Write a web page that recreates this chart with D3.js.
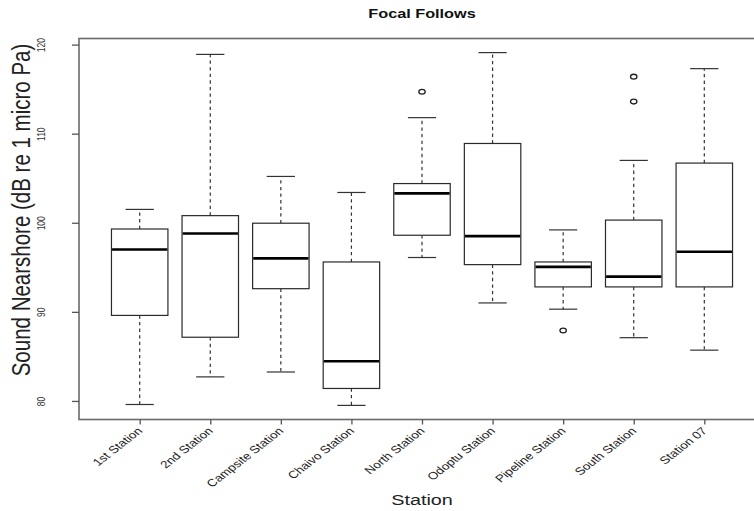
<!DOCTYPE html>
<html>
<head>
<meta charset="utf-8">
<script src="https://cdn.jsdelivr.net/npm/d3@7"></script>
<style>
  html, body { margin: 0; padding: 0; background: #fff; }
  svg { display: block; }
  text { font-family: "Liberation Sans", Arial, Helvetica, sans-serif; }
</style>
</head>
<body>
<svg id="chart" width="754" height="511"></svg>
<script>
// Box-plot summaries per station (dB re 1 micro Pa)
const stations = ["1st Station", "2nd Station", "Campsite Station", "Chaivo Station",
  "North Station", "Odoptu Station", "Pipeline Station", "South Station", "Station 07"];
const lowerWhisker = [79.6, 82.7, 83.25, 79.5, 96.1, 91.0, 90.3, 87.1, 85.7];
const q1           = [89.6, 87.15, 92.6, 81.4, 98.6, 95.3, 92.8, 92.8, 92.8];
const medians      = [97.0, 98.8, 96.0, 84.45, 103.3, 98.5, 95.05, 93.95, 96.75];
const q3           = [99.3, 100.8, 99.95, 95.6, 104.4, 108.9, 95.6, 100.3, 106.7];
const upperWhisker = [101.5, 118.9, 105.2, 103.4, 111.8, 119.1, 99.2, 107.0, 117.3];
const outlierStations = ["North Station", "Pipeline Station", "South Station", "South Station"];
const outlierValues   = [114.7, 87.9, 113.6, 116.4];
const yTicks = [80, 90, 100, 110, 120];

const title = "Focal Follows";
const xTitle = "Station";
const yTitle = "Sound Nearshore (dB re 1 micro Pa)";

// Text is drawn slightly wider than tall, as on the original graphics device
const SX = 1.28;

const svg = d3.select("#chart");
const plot = { left: 79, right: 765, top: 38.5, bottom: 419.5 };

// Stations sit at 1..n; the range 0.5..n+0.5 is padded by 4% on each side
const n = stations.length;
const xSpan = n;
const x = d3.scaleLinear()
  .domain([0.5 - xSpan * 0.04, n + 0.5 + xSpan * 0.04])
  .range([plot.left, plot.right]);

const allVals = lowerWhisker.concat(upperWhisker, outlierValues);
const yMin = d3.min(allVals), yMax = d3.max(allVals);
const yPad = (yMax - yMin) * 0.04;
const y = d3.scaleLinear()
  .domain([yMin - yPad, yMax + yPad])
  .range([plot.bottom, plot.top]);

const boxW = 0.8;
const data = stations.map((s, i) => ({
  name: s, pos: i + 1,
  lo: lowerWhisker[i], q1: q1[i], med: medians[i], q3: q3[i], hi: upperWhisker[i]
}));

const g = svg.append("g");

// whiskers (dashed)
g.selectAll("line.whisk-lo").data(data).enter().append("line")
  .attr("x1", d => x(d.pos)).attr("x2", d => x(d.pos))
  .attr("y1", d => y(d.q1)).attr("y2", d => y(d.lo))
  .attr("stroke", "#333").attr("stroke-width", 1.2).attr("stroke-dasharray", "3.3,3.3");
g.selectAll("line.whisk-hi").data(data).enter().append("line")
  .attr("x1", d => x(d.pos)).attr("x2", d => x(d.pos))
  .attr("y1", d => y(d.q3)).attr("y2", d => y(d.hi))
  .attr("stroke", "#333").attr("stroke-width", 1.2).attr("stroke-dasharray", "3.3,3.3");

// staples at the whisker ends
["lo", "hi"].forEach(k => {
  g.selectAll("line.staple-" + k).data(data).enter().append("line")
    .attr("x1", d => x(d.pos - boxW / 4)).attr("x2", d => x(d.pos + boxW / 4))
    .attr("y1", d => y(d[k])).attr("y2", d => y(d[k]))
    .attr("stroke", "#333").attr("stroke-width", 1.2);
});

// boxes
g.selectAll("rect.box").data(data).enter().append("rect")
  .attr("x", d => x(d.pos - boxW / 2))
  .attr("width", d => x(d.pos + boxW / 2) - x(d.pos - boxW / 2))
  .attr("y", d => y(d.q3))
  .attr("height", d => y(d.q1) - y(d.q3))
  .attr("fill", "#fff").attr("stroke", "#2a2a2a").attr("stroke-width", 1.2);

// medians
g.selectAll("line.median").data(data).enter().append("line")
  .attr("x1", d => x(d.pos - boxW / 2) + 0.6).attr("x2", d => x(d.pos + boxW / 2) - 0.6)
  .attr("y1", d => y(d.med)).attr("y2", d => y(d.med))
  .attr("stroke", "#000").attr("stroke-width", 2.6);

// outliers
g.selectAll("ellipse.out").data(outlierValues).enter().append("ellipse")
  .attr("cx", (v, i) => x(stations.indexOf(outlierStations[i]) + 1))
  .attr("cy", v => y(v))
  .attr("rx", 3.2).attr("ry", 2.4)
  .attr("fill", "none").attr("stroke", "#222").attr("stroke-width", 1.3);

// plot frame
svg.append("rect")
  .attr("x", plot.left).attr("y", plot.top)
  .attr("width", plot.right - plot.left).attr("height", plot.bottom - plot.top)
  .attr("fill", "none").attr("stroke", "#6a6a6a").attr("stroke-width", 1.6);

// y axis
const yAxis = svg.append("g")
  .attr("transform", `translate(${plot.left},0)`)
  .call(d3.axisLeft(y).tickValues(yTicks).tickSize(7).tickSizeOuter(0));
yAxis.select(".domain").remove();
yAxis.selectAll(".tick line").attr("stroke", "#555").attr("stroke-width", 1.3);
yAxis.selectAll(".tick text")
  .attr("x", null).attr("dy", null)
  .attr("transform", `translate(-34,0) scale(${SX},1) rotate(-90)`)
  .attr("text-anchor", "middle")
  .attr("font-size", 8.5).attr("fill", "#333");

// x axis with slanted station names
const xAxis = svg.append("g")
  .attr("transform", `translate(0,${plot.bottom})`)
  .call(d3.axisBottom(x).tickValues(d3.range(1, n + 1)).tickSize(5).tickSizeOuter(0)
    .tickFormat(d => stations[d - 1]));
xAxis.select(".domain").remove();
xAxis.selectAll(".tick line").attr("stroke", "#555").attr("stroke-width", 1.3);
xAxis.selectAll(".tick text")
  .attr("y", null).attr("dy", null)
  .attr("transform", `translate(3,12) scale(${SX},1) rotate(-45)`)
  .attr("text-anchor", "end")
  .attr("font-size", 10.5).attr("fill", "#222");

// titles
const cx = (plot.left + plot.right) / 2;
svg.append("text")
  .attr("transform", `translate(${cx},18.3) scale(${SX + 0.01},1)`)
  .attr("text-anchor", "middle")
  .attr("font-size", 12.6).attr("font-weight", "bold").attr("fill", "#111")
  .text(title);

svg.append("text")
  .attr("transform", `translate(${cx},505) scale(${SX + 0.04},1)`)
  .attr("text-anchor", "middle")
  .attr("font-size", 15).attr("fill", "#222")
  .text(xTitle);

svg.append("text")
  .attr("transform", `translate(30,210) scale(1.22,1) rotate(-90)`)
  .attr("text-anchor", "middle")
  .attr("font-size", 20.5).attr("fill", "#222")
  .text(yTitle);
</script>
</body>
</html>
